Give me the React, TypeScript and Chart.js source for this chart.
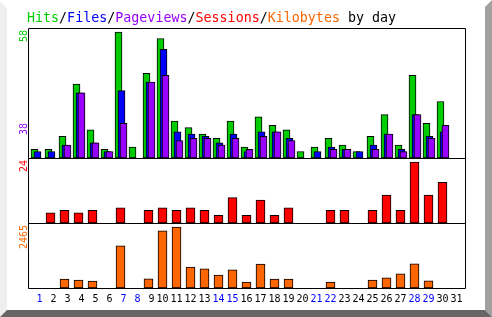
import React, { useEffect, useRef } from "react";
import { Chart, registerables } from "chart.js";

Chart.register(...registerables);

// ---- data ----
const days = ["1","2","3","4","5","6","7","8","9","10","11","12","13","14","15","16","17","18","19","20","21","22","23","24","25","26","27","28","29","30","31"];
const weekendDays = [1, 7, 8, 14, 15, 21, 22, 28, 29];
const hits = [4, 4, 10, 34, 13, 4, 58, 5, 39, 55, 17, 14, 11, 9, 17, 5, 19, 15, 13, 3, 5, 9, 6, 3, 10, 20, 6, 38, 16, 26, 0];
const files = [3, 3, 6, 30, 7, 3, 31, 0, 35, 50, 12, 11, 10, 7, 11, 3, 12, 12, 9, 0, 3, 5, 4, 3, 6, 11, 4, 20, 10, 12, 0];
const pageviews = [0, 0, 6, 30, 7, 3, 16, 0, 35, 38, 8, 9, 9, 6, 9, 4, 10, 12, 8, 0, 0, 4, 4, 0, 4, 11, 3, 20, 9, 15, 0];
const sessions = [0, 4, 5, 4, 5, 0, 6, 0, 5, 6, 5, 6, 5, 3, 10, 3, 9, 3, 6, 0, 0, 5, 5, 0, 5, 11, 5, 24, 11, 16, 0];
const kilobytes = [0, 0, 362, 318, 281, 0, 1702, 0, 367, 2310, 2465, 845, 770, 520, 731, 240, 968, 360, 365, 0, 0, 244, 0, 0, 320, 410, 570, 975, 285, 0, 0];
const seriesNames = ["Hits", "Files", "Pageviews", "Sessions", "Kilobytes"];
const titleSuffix = " by day";

// ---- styles ----
const GREEN = "#00cc00";
const BLUE = "#0000ff";
const PURPLE = "#9900ff";
const RED = "#ff0000";
const ORANGE = "#ff6600";
const SERIES_COLORS = [GREEN, BLUE, PURPLE, RED, ORANGE];
const MONO = '"DejaVu Sans Mono", "Liberation Mono", monospace';

const maxHits = Math.max(...hits);
const maxPages = Math.max(...pageviews);
const maxSessions = Math.max(...sessions);
const maxKb = Math.max(...kilobytes);

function poly(ctx: CanvasRenderingContext2D, pts: number[][], color: string) {
  ctx.beginPath();
  ctx.moveTo(pts[0][0], pts[0][1]);
  for (let i = 1; i < pts.length; i++) ctx.lineTo(pts[i][0], pts[i][1]);
  ctx.closePath();
  ctx.fillStyle = color;
  ctx.fill();
}

function upText(ctx: CanvasRenderingContext2D, text: string, x: number, yTopEnd: number, color: string) {
  ctx.save();
  ctx.font = `10px ${MONO}`;
  const w = ctx.measureText(text).width;
  ctx.translate(x, yTopEnd + w);
  ctx.rotate(-Math.PI / 2);
  ctx.fillStyle = color;
  ctx.textAlign = "left";
  ctx.textBaseline = "alphabetic";
  ctx.fillText(text, 0, 0);
  ctx.restore();
}

const decorPlugin = {
  id: "decor",
  beforeDraw(chart: any) {
    const { ctx, width, height } = chart;
    ctx.save();
    ctx.fillStyle = "#ffffff";
    ctx.fillRect(0, 0, width, height);
    poly(ctx, [[0, 1], [7, 8], [7, 310], [0, 317]], "#efefef");
    poly(ctx, [[485, 7], [492, 0], [492, 317], [485, 310]], "#a0a0a0");
    poly(ctx, [[0, 317], [7, 310], [485, 310], [492, 317]], "#666666");
    ctx.restore();
  },
  afterDatasetsUpdate(chart: any) {
    chart.data.datasets.forEach((ds: any, i: number) => {
      const shift = ds.xShift || 0;
      if (!shift) return;
      chart.getDatasetMeta(i).data.forEach((el: any) => {
        el.x += shift;
      });
    });
  },
  afterDatasetsDraw(chart: any) {
    const { ctx } = chart;
    const top = chart.scales.yTop;
    const mid = chart.scales.yMid;
    const bot = chart.scales.yBot;
    const L = 28.5;
    const R = 465.5;
    ctx.save();
    ctx.strokeStyle = "#000";
    ctx.lineWidth = 1;
    ctx.beginPath();
    ctx.rect(L, Math.round(top.top) + 0.5, R - L, Math.round(bot.bottom) - Math.round(top.top));
    ctx.moveTo(L, Math.round(mid.top) + 0.5);
    ctx.lineTo(R, Math.round(mid.top) + 0.5);
    ctx.moveTo(L, Math.round(bot.top) + 0.5);
    ctx.lineTo(R, Math.round(bot.top) + 0.5);
    ctx.stroke();
    ctx.restore();

    // max value labels
    upText(ctx, String(maxHits), 27, top.top + 2, GREEN);
    upText(ctx, String(maxPages), 27, top.bottom - 35, PURPLE);
    upText(ctx, String(maxSessions), 27, mid.top + 2, RED);
    upText(ctx, String(maxKb), 27, bot.top + 2, ORANGE);

    // multicolour title
    ctx.save();
    ctx.font = `13.33px ${MONO}`;
    ctx.textAlign = "left";
    ctx.textBaseline = "alphabetic";
    let x = 27;
    const y = 22;
    seriesNames.forEach((name, i) => {
      if (i > 0) {
        ctx.fillStyle = "#000";
        ctx.fillText("/", x, y);
        x += ctx.measureText("/").width;
      }
      ctx.fillStyle = SERIES_COLORS[i];
      ctx.fillText(name, x, y);
      x += ctx.measureText(name).width;
    });
    ctx.fillStyle = "#000";
    ctx.fillText(titleSuffix, x, y);
    ctx.restore();
  },
};

export default function App() {
  const ref = useRef<HTMLCanvasElement>(null);
  useEffect(() => {
    const barBase = { borderColor: "#000", borderWidth: 1, borderSkipped: false, grouped: false };
    const chart = new Chart(ref.current as HTMLCanvasElement, {
      type: "bar",
      data: {
        labels: days,
        datasets: [
          { ...barBase, label: seriesNames[0], data: hits, yAxisID: "yTop", backgroundColor: GREEN, barThickness: 7, order: 3, xShift: -2 } as any,
          { ...barBase, label: seriesNames[1], data: files, yAxisID: "yTop", backgroundColor: BLUE, barThickness: 7, order: 2, xShift: 1 } as any,
          { ...barBase, label: seriesNames[2], data: pageviews, yAxisID: "yTop", backgroundColor: PURPLE, barThickness: 7, order: 1, xShift: 3 } as any,
          { ...barBase, label: seriesNames[3], data: sessions, yAxisID: "yMid", backgroundColor: RED, barThickness: 9, order: 0 } as any,
          { ...barBase, label: seriesNames[4], data: kilobytes, yAxisID: "yBot", backgroundColor: ORANGE, barThickness: 9, order: 0 } as any,
        ],
      },
      options: {
        animation: false,
        responsive: false,
        events: [],
        layout: { padding: { left: 29.5, right: 28.5, top: 28, bottom: 9 } },
        plugins: {
          legend: { display: false },
          tooltip: { enabled: false },
          title: { display: false },
        },
        scales: {
          x: {
            type: "category",
            offset: true,
            grid: { display: false, drawTicks: false },
            border: { display: false },
            ticks: {
              autoSkip: false,
              maxRotation: 0,
              minRotation: 0,
              padding: 5,
              font: { family: MONO, size: 10 },
              color: (c: any) => (weekendDays.includes(c.index + 1) ? BLUE : "#000"),
              callback: (_v: any, i: number) => days[i].padStart(2, " "),
            },
            afterFit: (s: any) => {
              s.height = 20;
            },
          },
          yBot: { type: "linear", stack: "panels", stackWeight: 1, min: 0, max: (maxKb * 65) / 61, display: false },
          yMid: { type: "linear", stack: "panels", stackWeight: 1, min: 0, max: (maxSessions * 65) / 61, display: false },
          yTop: { type: "linear", stack: "panels", stackWeight: 2, min: 0, max: (maxHits * 130) / 126, display: false },
        },
      } as any,
      plugins: [decorPlugin],
    });
    return () => chart.destroy();
  }, []);
  return (
    <div style={{ position: "absolute", left: 0, top: 0, width: 492, height: 317 }}>
      <canvas ref={ref} width={492} height={317} style={{ display: "block", width: 492, height: 317 }} />
    </div>
  );
}
